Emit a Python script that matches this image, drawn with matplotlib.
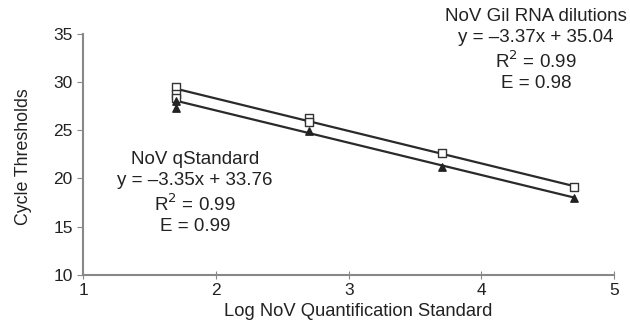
import numpy as np
import matplotlib.pyplot as plt

plt.rcParams['font.family'] = ['Liberation Sans', 'DejaVu Sans']

# NoV GII RNA dilutions (open squares)
rna_x = [1.7, 1.7, 1.7, 2.7, 2.7, 3.7, 4.7]
rna_y = [29.5, 28.8, 28.3, 26.3, 25.9, 22.6, 19.1]
rna_fit = (-3.37, 35.04)

# NoV qStandard (filled triangles)
std_x = [1.7, 1.7, 2.7, 3.7, 4.7]
std_y = [27.3, 28.0, 24.9, 21.2, 18.0]
std_fit = (-3.35, 33.76)

fit_x = [1.7, 4.7]

fig = plt.figure(figsize=(6.3, 3.2), dpi=100)
ax = fig.add_axes([0.132, 0.141, 0.843, 0.753])

for slope, icpt in [rna_fit, std_fit]:
    xs = np.array(fit_x)
    ax.plot(xs, slope * xs + icpt, color='#2a2a2a', lw=1.6, zorder=2)

ax.scatter(rna_x, rna_y, marker='s', s=28, facecolor='white', edgecolor='#333333', lw=1, zorder=3)
ax.scatter(std_x, std_y, marker='^', s=28, color='#222222', zorder=4)

ax.set_xlim(1, 5)
ax.set_ylim(10, 35)
ax.set_xticks([1, 2, 3, 4, 5])
ax.set_yticks([10, 15, 20, 25, 30, 35])
for s in ['top', 'right']:
    ax.spines[s].set_visible(False)
for s in ['left', 'bottom']:
    ax.spines[s].set_color('#888888')
    ax.spines[s].set_linewidth(1.5)
ax.tick_params(axis='x', direction='inout', length=6, color='#888888', labelsize=12.5,
               pad=3, labelcolor='#222222')
ax.tick_params(axis='y', direction='out', length=4, color='#888888', labelsize=12.5,
               labelcolor='#222222')

ax.set_xlabel('Log NoV Quantification Standard', fontsize=13.2, color='#222222')
ax.xaxis.set_label_coords(0.518, -0.118)
ax.set_ylabel('Cycle Thresholds', fontsize=12.8, color='#222222')
ax.yaxis.set_label_coords(-0.097, 0.49)

left_txt = 'NoV qStandard\ny = \u20133.35x + 33.76\nR$^2$ = 0.99\nE = 0.99'
right_txt = 'NoV Gil RNA dilutions\ny = \u20133.37x + 35.04\nR$^2$ = 0.99\nE = 0.98'
fig.text(195 / 630, 1 - 151 / 320, left_txt, ha='center', va='top', fontsize=13.5,
         linespacing=1.27, color='#222222')
fig.text(536 / 630, 1 - 8 / 320, right_txt, ha='center', va='top', fontsize=13.5,
         linespacing=1.27, color='#222222')

fig.savefig('out.png', dpi=100)
